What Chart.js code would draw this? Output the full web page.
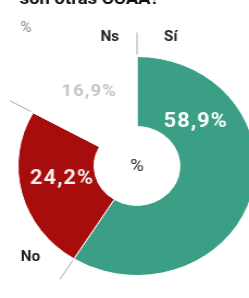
<!DOCTYPE html>
<html><head><meta charset="utf-8">
<script src="https://cdn.jsdelivr.net/npm/chart.js@4"></script>
<style>
html,body{margin:0;padding:0;background:#fff;overflow:hidden;width:249px;height:298px}
#wrap{position:absolute;left:0;top:0;width:249px;height:298px;transform:scaleX(1.087);transform-origin:137px 0}
</style></head><body>
<div id="wrap"><canvas id="c" width="249" height="298"></canvas></div>
<script>
const titleText = 'son otras CCAA?';
const unitLabel = '%';
const categories = ['Sí', 'No', 'Ns'];
const values = [58.9, 24.2, 16.9];
const valueLabels = ['58,9%', '24,2%', '16,9%'];
const colors = ['#3a9f85', '#a80d0d', '#ffffff'];

const FONT = 'Roboto, "Liberation Sans", sans-serif';

const overlay = {
  id: 'overlay',
  afterDraw(chart) {
    const ctx = chart.ctx;
    const arcs = chart.getDatasetMeta(0).data;
    const cx = arcs[0].x, cy = arcs[0].y, R = arcs[0].outerRadius;
    ctx.save();
    // leader lines at segment boundaries
    ctx.strokeStyle = '#a8a8a8';
    ctx.lineWidth = 1;
    arcs.forEach(a => {
      const ang = a.startAngle;
      ctx.beginPath();
      ctx.moveTo(cx + Math.cos(ang) * (R + 2), cy + Math.sin(ang) * (R + 2));
      ctx.lineTo(cx + Math.cos(ang) * (R + 24), cy + Math.sin(ang) * (R + 24));
      ctx.stroke();
    });
    ctx.textAlign = 'center';
    ctx.textBaseline = 'middle';
    // value labels
    const valPos = [[54, -44], [-69, 13], [-44, -74]];
    const valCol = ['#ffffff', '#f6eeee', '#c6c6c6'];
    const valSize = [20, 20, 17];
    ctx.letterSpacing = '1px';
    valueLabels.forEach((t, i) => {
      ctx.font = 'bold ' + valSize[i] + 'px ' + FONT;
      ctx.fillStyle = valCol[i];
      ctx.fillText(t, cx + valPos[i][0], cy + valPos[i][1]);
    });
    ctx.letterSpacing = '0px';
    // category labels
    const catPos = [[31, -129], [-98, 91], [-25, -129]];
    ctx.font = 'bold 14px ' + FONT;
    ctx.fillStyle = '#222222';
    categories.forEach((t, i) => {
      ctx.fillText(t, cx + catPos[i][0], cy + catPos[i][1]);
    });
    // center unit
    ctx.font = '17px ' + FONT;
    ctx.fillStyle = '#333333';
    ctx.fillText(unitLabel, cx, cy + 1);
    // top-left unit
    ctx.font = '14px ' + FONT;
    ctx.fillStyle = '#888888';
    ctx.fillText(unitLabel, cx - 102, cy - 138);
    // title (cut off at top)
    ctx.textAlign = 'left';
    ctx.textBaseline = 'alphabetic';
    ctx.font = 'bold 17px ' + FONT;
    ctx.fillStyle = '#111111';
    ctx.fillText(titleText, cx - 108, 4);
    ctx.restore();
  }
};

new Chart(document.getElementById('c'), {
  type: 'doughnut',
  data: {
    labels: categories,
    datasets: [{
      data: values,
      backgroundColor: colors,
      borderColor: '#ffffff',
      borderWidth: 1,
      hoverOffset: 0
    }]
  },
  options: {
    responsive: false,
    animation: false,
    cutout: '36%',
    layout: { padding: { left: 27, top: 56, right: 2, bottom: 22 } },
    plugins: { legend: { display: false }, tooltip: { enabled: false } },
    events: []
  },
  plugins: [overlay]
});
</script>
</body></html>
